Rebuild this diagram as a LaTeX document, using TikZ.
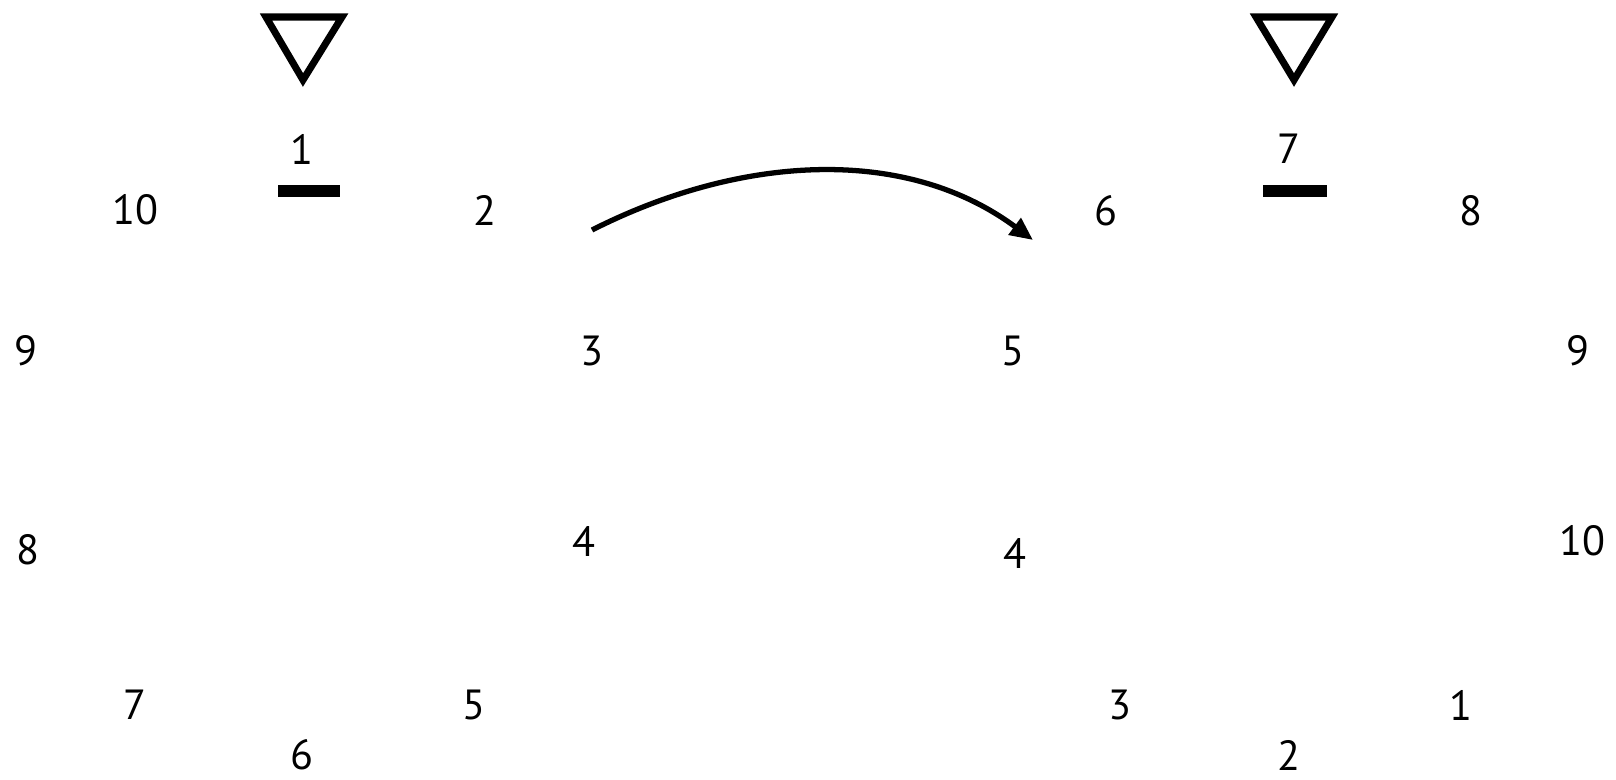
\documentclass[tikz,border=0pt]{standalone}
\usepackage{fontspec}
\setmainfont{PT Sans}
\usetikzlibrary{arrows.meta}
\begin{document}
\begin{tikzpicture}[x=0.02cm,y=-0.02cm,
  num/.style={inner sep=0pt,font=\fontsize{24}{28}\selectfont},
  tri/.style={draw=black,line width=4pt,line join=miter,fill=white},
  bar/.style={fill=black,draw=none},
  conn/.style={line width=3pt,-{Triangle[length=0.46cm,width=0.4cm]}}]
\useasboundingbox (0,0) rectangle (1616,779);
% triangles
\draw[tri] (266,17) -- (342,17) -- (303,80) -- cycle;
\draw[tri] (1256,17) -- (1332,17) -- (1294,80) -- cycle;
% bars
\fill[bar] (278,185) rectangle (340,197);
\fill[bar] (1263,185) rectangle (1327,197);
% left numbers
\node[num] (l1) at (302,149) {1};
\node[num] (l10) at (135,210) {10};
\node[num] (l2) at (485,210) {2};
\node[num] (l9) at (26,351) {9};
\node[num] (l3) at (592,351) {3};
\node[num] (l8) at (28,550) {8};
\node[num] (l4) at (584,541) {4};
\node[num] (l7) at (135,705) {7};
\node[num] (l5) at (474,705) {5};
\node[num] (l6) at (302,755) {6};
% right numbers
\node[num] (r7) at (1289,149) {7};
\node[num] (r6) at (1106,211) {6};
\node[num] (r8) at (1471,211) {8};
\node[num] (r5) at (1013,351) {5};
\node[num] (r9) at (1578,351) {9};
\node[num] (r4) at (1015,553) {4};
\node[num] (r10) at (1582,541) {10};
\node[num] (r3) at (1120,705) {3};
\node[num] (r1) at (1461,705) {1};
\node[num] (r2) at (1289,755) {2};
% arrow
\coordinate (as) at (592,230);
\coordinate (ae) at (1033,240);
\draw[conn] (as) .. controls (740,155) and (905,145) .. (ae);
\end{tikzpicture}
\end{document}
